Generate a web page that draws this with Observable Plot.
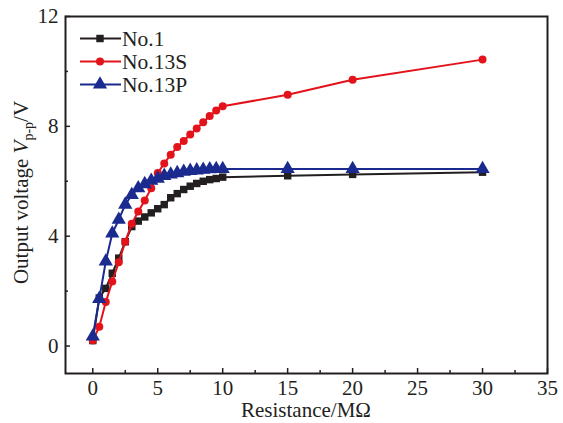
<!DOCTYPE html>
<html><head><meta charset="utf-8">
<script src="https://cdn.jsdelivr.net/npm/d3@7"></script>
<script src="https://cdn.jsdelivr.net/npm/@observablehq/plot@0.6"></script>
<style>body{margin:0;background:#fff} svg text{font-family:"Liberation Serif","DejaVu Serif",serif !important;}</style>
</head><body><div id="chart"></div>
<script>
// ---- data ----
const resistance = [0,0.5,1,1.5,2,2.5,3,3.5,4,4.5,5,5.5,6,6.5,7,7.5,8,8.5,9,9.5,10,15,20,30];
const no1   = [0.2,1.75,2.1,2.65,3.2,3.8,4.35,4.55,4.7,4.85,5.0,5.15,5.4,5.55,5.7,5.82,5.92,6.0,6.06,6.1,6.15,6.2,6.25,6.33];
const no13S = [0.2,0.7,1.6,2.35,3.05,3.8,4.45,4.9,5.3,5.75,6.3,6.65,6.97,7.25,7.47,7.7,7.92,8.15,8.38,8.58,8.73,9.15,9.7,10.43];
const no13P = [0.35,1.72,3.08,4.1,4.6,5.15,5.5,5.75,5.9,6.02,6.1,6.2,6.25,6.3,6.35,6.38,6.4,6.42,6.44,6.45,6.45,6.45,6.45,6.45];
const seriesNames = ["No.1","No.13S","No.13P"];
const seriesColors = ["#231f20","#e3131b","#1b2a8e"];
const seriesSymbols = ["square","circle","triangle"];
const seriesR = [4.2,4,5.3];
const xTicks = [0,5,10,15,20,25,30,35];
const xMinor = [2.5,7.5,12.5,17.5,22.5,27.5,32.5];
const yTicks = [0,4,8,12];
const yMinor = [2,6,10];

const seriesValues = [no1, no13S, no13P];
const rows = [];
seriesValues.forEach((vals, s) => vals.forEach((v, i) => rows.push({series: seriesNames[s], x: resistance[i], y: v})));

const W = 563, H = 423;
const mL = 65, mR = 16, mT = 16, mB = 50;
const pw = W - mL - mR, ph = H - mT - mB;
const dark = "#231f20";
const FONT = "Liberation Serif, DejaVu Serif, serif";

const marks = [];
seriesNames.forEach((name, s) => {
  const d = rows.filter(r => r.series === name);
  marks.push(Plot.line(d, {x: "x", y: "y", stroke: seriesColors[s], strokeWidth: 2}));
  marks.push(Plot.dot(d, {x: "x", y: "y", fill: seriesColors[s], stroke: "none", symbol: seriesSymbols[s], r: seriesR[s]}));
});

const plot = Plot.plot({
  width: W, height: H,
  marginLeft: mL, marginRight: mR, marginTop: mT, marginBottom: mB,
  style: {fontFamily: FONT, fontSize: "21px", color: dark, background: "#fff"},
  x: {domain: [-2.1, 35]},
  y: {domain: [-1, 12]},
  marks: [
    Plot.axisX({ticks: xTicks, tickSize: 0, tickPadding: 7, label: null, fill: dark, tickFormat: d => d}),
    Plot.axisY({ticks: yTicks, tickSize: 0, tickPadding: 7, label: null, fill: dark, tickFormat: d => d}),
    Plot.ruleX(xTicks, {x: d => d, insetTop: ph - 5, stroke: dark, strokeWidth: 1.5}),
    Plot.ruleX(xMinor, {x: d => d, insetTop: ph - 3, stroke: dark, strokeWidth: 1.5}),
    Plot.ruleY(yTicks, {y: d => d, insetRight: pw - 5, stroke: dark, strokeWidth: 1.5}),
    Plot.ruleY(yMinor, {y: d => d, insetRight: pw - 3, stroke: dark, strokeWidth: 1.5}),
    ...marks,
    Plot.frame({stroke: dark, strokeWidth: 2})
  ]
});

const svg = d3.select(plot);
svg.attr("font-family", FONT);
// axis titles
svg.append("text")
  .attr("x", mL + pw / 2).attr("y", 417)
  .attr("text-anchor", "middle").attr("font-family", FONT)
  .attr("font-size", 21).attr("fill", dark)
  .text("Resistance/MΩ");

const yl = svg.append("text")
  .attr("transform", `translate(28,${mT + ph / 2 - 2}) rotate(-90)`)
  .attr("text-anchor", "middle").attr("font-family", FONT)
  .attr("font-size", 21).attr("fill", dark);
yl.append("tspan").text("Output voltage ");
yl.append("tspan").attr("font-style", "italic").text("V");
yl.append("tspan").attr("font-size", 14).attr("dy", 5).text("p-p");
yl.append("tspan").attr("dy", -5).text("/V");

// legend
const leg = svg.append("g");
seriesNames.forEach((name, s) => {
  const yy = 38.5 + s * 23;
  leg.append("line").attr("x1", 80).attr("x2", 121).attr("y1", yy).attr("y2", yy)
    .attr("stroke", seriesColors[s]).attr("stroke-width", 2);
  const sym = {square: d3.symbolSquare, circle: d3.symbolCircle, triangle: d3.symbolTriangle}[seriesSymbols[s]];
  leg.append("path").attr("transform", `translate(100,${yy})`)
    .attr("d", d3.symbol(sym, Math.PI * seriesR[s] * seriesR[s])())
    .attr("fill", seriesColors[s]);
  leg.append("text").attr("x", 122).attr("y", yy + 7)
    .attr("text-anchor", "start").attr("font-family", FONT)
    .attr("font-size", 21.5).attr("fill", dark).text(name);
});

document.getElementById("chart").appendChild(plot);
</script>
</body></html>
